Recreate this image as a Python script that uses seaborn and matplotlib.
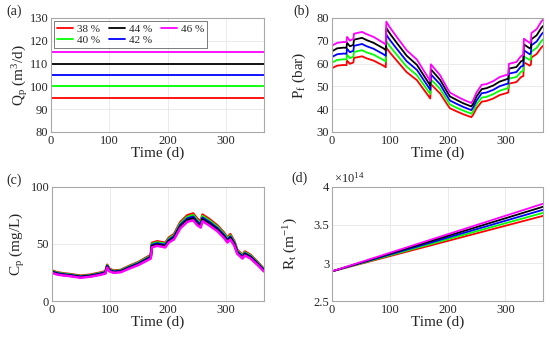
import numpy as np
import pandas as pd
import matplotlib
matplotlib.use("Agg")
import matplotlib.pyplot as plt
import seaborn as sns
from matplotlib.ticker import FuncFormatter
from matplotlib.lines import Line2D

# ---------------- data ----------------
labels = ["38 %", "40 %", "42 %", "44 %", "46 %"]
colors = ["#ff0000", "#00ff00", "#0000ff", "#000000", "#ff00ff"]

# (a) permeate flow Qp (m3/d)
t_a = [0, 365]
qp_38 = [95, 95]
qp_40 = [100, 100]
qp_42 = [105, 105]
qp_44 = [110, 110]
qp_46 = [115, 115]

# (b) feed pressure Pf (bar)
t_b = [0, 9, 20, 25, 26, 31, 37, 38, 52, 60, 72, 89, 93, 94, 100, 112, 129, 147, 170, 171,
       187, 198, 204, 216, 227, 241, 244, 250, 259, 267, 279, 290, 305, 306, 319, 327, 331,
       332, 342, 344, 345, 354, 362, 365]
pf_38 = [58.0, 59.1, 59.4, 59.3, 61.3, 59.9, 60.5, 62.5, 63.2, 62.3, 61.3, 59.1, 58.4, 67.0,
         64.9, 61.3, 56.3, 52.7, 44.7, 51.0, 46.9, 42.6, 40.4, 39.0, 37.8, 36.5, 37.5, 40.4,
         43.3, 43.6, 44.7, 46.2, 47.3, 51.2, 51.9, 54.1, 54.5, 60.6, 59.1, 59.5, 62.7, 64.2,
         67.0, 67.8]
pf_40 = [60.4, 61.6, 61.9, 61.8, 63.9, 62.4, 63.0, 65.1, 65.9, 64.9, 63.9, 61.6, 60.9, 69.8,
         67.6, 63.9, 58.7, 54.9, 46.6, 53.1, 48.9, 44.4, 42.1, 40.6, 39.4, 38.0, 39.1, 42.1,
         45.1, 45.4, 46.6, 48.1, 49.3, 53.4, 54.1, 56.4, 56.8, 63.1, 61.6, 62.0, 65.3, 66.9,
         69.8, 70.6]
pf_42 = [62.9, 64.1, 64.4, 64.3, 66.5, 65.0, 65.6, 67.8, 68.6, 67.6, 66.5, 64.1, 63.4, 72.7,
         70.4, 66.5, 61.1, 57.2, 48.5, 55.3, 50.9, 46.2, 43.8, 42.3, 41.0, 39.6, 40.7, 43.8,
         47.0, 47.3, 48.5, 50.1, 51.3, 55.6, 56.3, 58.7, 59.1, 65.8, 64.1, 64.6, 68.0, 69.7,
         72.7, 73.6]
pf_44 = [65.4, 66.7, 67.0, 66.9, 69.1, 67.6, 68.2, 70.5, 71.3, 70.3, 69.1, 66.7, 65.9, 75.6,
         73.2, 69.1, 63.5, 59.4, 50.4, 57.5, 52.9, 48.1, 45.6, 44.0, 42.6, 41.2, 42.3, 45.6,
         48.8, 49.2, 50.4, 52.1, 53.4, 57.8, 58.5, 61.0, 61.5, 68.4, 66.7, 67.1, 70.7, 72.4,
         75.6, 76.5]
pf_46 = [67.9, 69.1, 69.5, 69.4, 71.7, 70.1, 70.8, 73.1, 73.9, 72.9, 71.7, 69.1, 68.3, 78.4,
         75.9, 71.7, 65.9, 61.7, 52.3, 59.7, 54.9, 49.8, 47.3, 45.6, 44.2, 42.7, 43.9, 47.3,
         50.7, 51.0, 52.3, 54.1, 55.3, 59.9, 60.7, 63.3, 63.8, 70.9, 69.1, 69.6, 73.4, 75.1,
         78.4, 79.3]

# (c) permeate concentration Cp (mg/L)
t_c = [0, 9, 20, 31, 49, 66, 83, 92, 95, 99, 106, 118, 135, 149, 170, 172, 181, 195, 201,
       210, 221, 233, 243, 250, 256, 259, 270, 285, 296, 302, 307, 314, 319, 328, 332, 342,
       354, 365]
cp_38 = [26.7, 25.2, 24.2, 23.6, 22.2, 23.1, 24.9, 26.1, 31.8, 28.2, 26.7, 27.2, 31.2, 34.2,
         40.4, 51.0, 52.4, 51.0, 55.5, 58.6, 69.2, 75.2, 76.8, 72.2, 69.8, 75.8, 72.2, 66.1,
         60.0, 55.5, 58.6, 52.4, 44.8, 40.4, 43.4, 40.4, 34.2, 28.1]
cp_40 = [26.2, 24.7, 23.8, 23.2, 21.7, 22.6, 24.4, 25.6, 31.2, 27.6, 26.2, 26.7, 30.6, 33.6,
         39.6, 50.0, 51.4, 50.0, 54.5, 57.4, 67.8, 73.7, 75.3, 70.8, 68.4, 74.4, 70.8, 64.9,
         58.9, 54.5, 57.4, 51.4, 44.0, 39.6, 42.5, 39.6, 33.6, 27.5]
cp_42 = [25.7, 24.2, 23.3, 22.7, 21.3, 22.2, 23.9, 25.1, 30.6, 27.1, 25.7, 26.2, 30.0, 32.9,
         38.8, 49.0, 50.4, 49.0, 53.4, 56.3, 66.5, 72.3, 73.8, 69.4, 67.1, 72.9, 69.4, 63.6,
         57.7, 53.4, 56.3, 50.4, 43.1, 38.8, 41.7, 38.8, 32.9, 27.0]
cp_44 = [25.2, 23.7, 22.8, 22.2, 20.9, 21.8, 23.4, 24.6, 30.0, 26.6, 25.2, 25.7, 29.4, 32.2,
         38.0, 48.0, 49.4, 48.0, 52.3, 55.2, 65.2, 70.9, 72.3, 68.0, 65.8, 71.4, 68.0, 62.3,
         56.5, 52.3, 55.2, 49.4, 42.2, 38.0, 40.9, 38.0, 32.2, 26.5]
cp_46 = [24.7, 23.2, 22.4, 21.8, 20.4, 21.3, 22.9, 24.1, 29.4, 26.0, 24.7, 25.2, 28.8, 31.6,
         37.2, 47.0, 48.4, 47.0, 51.3, 54.0, 63.8, 69.4, 70.8, 66.6, 64.4, 70.0, 66.6, 61.1,
         55.4, 51.3, 54.0, 48.4, 41.4, 37.2, 40.0, 37.2, 31.6, 25.9]

# (d) total resistance Rt (1/m)
t_d = [0, 365]
rt_38 = [2.89e14, 3.62e14]
rt_40 = [2.89e14, 3.66e14]
rt_42 = [2.89e14, 3.70e14]
rt_44 = [2.89e14, 3.74e14]
rt_46 = [2.89e14, 3.78e14]


def long_df(t, series):
    frames = []
    for lab, vals in zip(labels, series):
        frames.append(pd.DataFrame({"t": t, "v": vals, "rr": lab}))
    return pd.concat(frames, ignore_index=True)


df_a = long_df(t_a, [qp_38, qp_40, qp_42, qp_44, qp_46])
df_b = long_df(t_b, [pf_38, pf_40, pf_42, pf_44, pf_46])
df_c = long_df(t_c, [cp_38, cp_40, cp_42, cp_44, cp_46])
df_d = long_df(t_d, [rt_38, rt_40, rt_42, rt_44, rt_46])

# ---------------- style ----------------
sns.set_theme(style="whitegrid")
plt.rcParams["font.family"] = ["Liberation Serif", "DejaVu Serif"]
plt.rcParams["mathtext.fontset"] = "custom"
plt.rcParams["mathtext.rm"] = "Liberation Serif"
plt.rcParams["mathtext.it"] = "Liberation Serif:italic"
plt.rcParams["axes.unicode_minus"] = False

palette = dict(zip(labels, colors))

fig = plt.figure(figsize=(5.5, 3.39), dpi=100)
W, H = 550.0, 339.0


def make_ax(l, t, r, b):
    return fig.add_axes([l / W, 1 - b / H, (r - l) / W, (b - t) / H])


ax_a = make_ax(51, 18, 264, 132)
ax_b = make_ax(332, 18, 543, 132)
ax_c = make_ax(52, 187, 264, 301)
ax_d = make_ax(332, 187, 543, 301)

sns.lineplot(data=df_a, x="t", y="v", hue="rr", palette=palette, estimator=None,
             linewidth=1.3, ax=ax_a, legend=False)
sns.lineplot(data=df_b, x="t", y="v", hue="rr", palette=palette, estimator=None,
             linewidth=1.3, ax=ax_b, legend=False)
sns.lineplot(data=df_c, x="t", y="v", hue="rr", palette=palette, estimator=None,
             linewidth=1.8, ax=ax_c, legend=False)
sns.lineplot(data=df_d, x="t", y="v", hue="rr", palette=palette, estimator=None,
             linewidth=1.3, ax=ax_d, legend=False)

settings = [
    (ax_a, (80, 130), np.arange(80, 131, 10), r"Q$_\mathrm{p}$ (m$^\mathrm{3}$/d)", -0.10),
    (ax_b, (30, 80), np.arange(30, 81, 10), r"P$_\mathrm{f}$ (bar)", -0.115),
    (ax_c, (0, 100), [0, 50, 100], r"C$_\mathrm{p}$ (mg/L)", -0.12),
    (ax_d, (2.5e14, 4e14), [2.5e14, 3e14, 3.5e14, 4e14], r"R$_\mathrm{t}$ (m$^\mathrm{-1}$)", -0.15),
]
for ax, ylim, yt, ylab, lx in settings:
    ax.set_xlim(0, 365)
    ax.set_ylim(*ylim)
    ax.set_xticks([0, 100, 200, 300])
    ax.set_yticks(yt)
    ax.set_xlabel("Time (d)", fontsize=11, labelpad=0)
    ax.set_ylabel(ylab, fontsize=11)
    ax.yaxis.set_label_coords(lx, 0.5)
    ax.tick_params(axis="both", labelsize=9, length=2, direction="in", pad=2,
                   colors="#262626", color="#a0a0a0")
    ax.grid(True, color="#e8e8e8", linewidth=0.6)
    for s in ax.spines.values():
        s.set_color("#a8a8a8")
        s.set_linewidth(0.8)
    ax.set_facecolor("white")

# (d) scaled tick labels with exponent note
ax_d.yaxis.set_major_formatter(FuncFormatter(lambda v, p: f"{v / 1e14:g}"))
ax_d.text(0.01, 1.01, r"$\times$10$^{14}$", transform=ax_d.transAxes, fontsize=9,
          ha="left", va="bottom", color="#262626")

# legend in (a)
order = [0, 1, 3, 2, 4]
handles = [Line2D([0], [0], color=colors[i], lw=1.3) for i in order]
leg = ax_a.legend(handles, [labels[i] for i in order], ncol=3, loc="upper left",
                  fontsize=8, frameon=True, fancybox=False, edgecolor="#404040",
                  handlelength=1.4, handletextpad=0.4, columnspacing=0.8,
                  borderpad=0.25, labelspacing=0.1, borderaxespad=0.3)
leg.get_frame().set_linewidth(0.6)

for txt, x, y in [("(a)", 14, 11), ("(b)", 301, 11), ("(c)", 14, 180), ("(d)", 300, 178)]:
    fig.text(x / W, 1 - y / H, txt, fontsize=10, ha="center", va="center")

fig.savefig("out.png", dpi=100)
